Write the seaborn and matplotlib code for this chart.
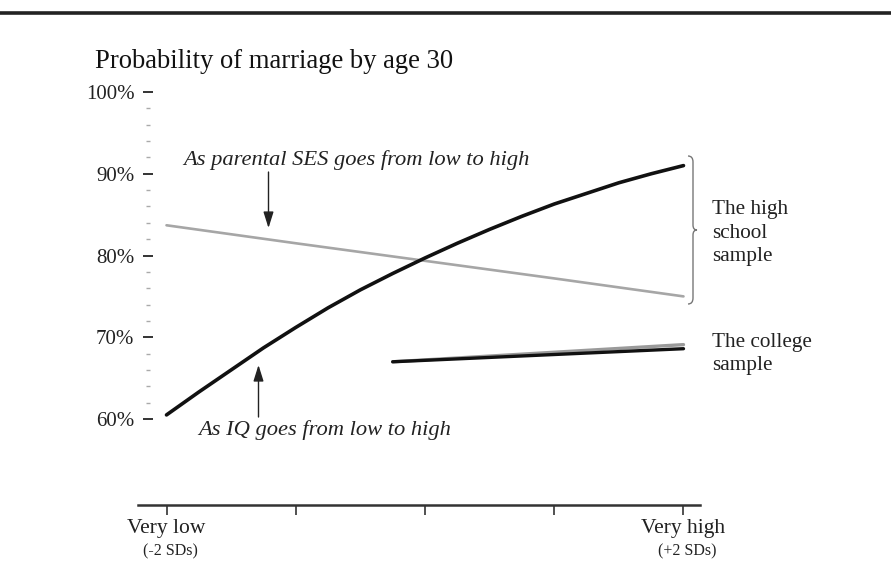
import matplotlib
matplotlib.use("Agg")
import matplotlib.pyplot as plt
from matplotlib.lines import Line2D
from matplotlib.path import Path
from matplotlib.patches import PathPatch
from matplotlib.ticker import FixedLocator
import numpy as np
import pandas as pd
import seaborn as sns

# ---------------- data ----------------
hs_sd = [-2, -1.75, -1.5, -1.25, -1, -0.75, -0.5, -0.25, 0,
         0.25, 0.5, 0.75, 1, 1.25, 1.5, 1.75, 2]
hs_iq = [60.5, 63.3, 66.0, 68.7, 71.2, 73.6, 75.8, 77.8, 79.7,
         81.5, 83.2, 84.8, 86.3, 87.6, 88.9, 90.0, 91.0]
hs_ses_sd = [-2, -1, 0, 1, 2]
hs_ses = [83.7, 81.5, 79.35, 77.2, 75.0]
col_sd = [-0.25, 2]
col_iq = [67.0, 68.6]
col_ses = [67.0, 69.1]

y_ticks = [60, 70, 80, 90, 100]
y_tick_labels = ["60%", "70%", "80%", "90%", "100%"]
y_minor = [62, 64, 66, 68, 72, 74, 76, 78, 82, 84, 86, 88, 92, 94, 96, 98]
x_ticks = [-2, -1, 0, 1, 2]
x_tick_labels = ["Very low", "", "", "", "Very high"]
x_sub_labels = {-2: "(-2 SDs)", 2: "(+2 SDs)"}

title = "Probability of marriage by age 30"
ses_note = "As parental SES goes from low to high"
iq_note = "As IQ goes from low to high"
hs_label = "The high\nschool\nsample"
col_label = "The college\nsample"

# ---------------- style ----------------
sns.set_style("white")
plt.rcParams["font.family"] = ["Liberation Serif", "DejaVu Serif"]

W, H = 891, 562
fig = plt.figure(figsize=(W / 100, H / 100), dpi=100)


def fx(px):
    return px / W


def fy(py):
    return 1 - py / H


ax = fig.add_axes([fx(137.6), fy(505), (700 - 137.6) / W, (505 - 87.7) / H])

# ---------------- lines ----------------
df_hs_iq = pd.DataFrame({"sd": hs_sd, "p": hs_iq})
df_hs_ses = pd.DataFrame({"sd": hs_ses_sd, "p": hs_ses})
df_col_iq = pd.DataFrame({"sd": col_sd, "p": col_iq})
df_col_ses = pd.DataFrame({"sd": col_sd, "p": col_ses})

sns.lineplot(data=df_hs_ses, x="sd", y="p", ax=ax, color="#a6a6a6", lw=1.9)
sns.lineplot(data=df_hs_iq, x="sd", y="p", ax=ax, color="#111111", lw=2.6)
sns.lineplot(data=df_col_ses, x="sd", y="p", ax=ax, color="#9a9a9a", lw=2.4)
sns.lineplot(data=df_col_iq, x="sd", y="p", ax=ax, color="#111111", lw=2.4)

ax.set_xlim(-2.2236, 2.1277)
ax.set_ylim(49.48, 100.53)
ax.set_xlabel("")
ax.set_ylabel("")

# spines
for s in ["top", "right"]:
    ax.spines[s].set_visible(False)
ax.spines["left"].set_position(("data", -2.147))
ax.spines["left"].set_color("none")
ax.spines["bottom"].set_linewidth(1.8)
ax.spines["bottom"].set_color("#333333")

# y ticks
ax.set_yticks(y_ticks)
ax.set_yticklabels(y_tick_labels, fontsize=15, color="#222222")
ax.yaxis.set_minor_locator(FixedLocator(y_minor))
ax.tick_params(axis="y", which="major", left=True, direction="inout", length=7,
               width=1.4, color="#333333", pad=6)
ax.tick_params(axis="y", which="minor", left=True, direction="inout", length=2.5,
               width=1.0, color="#aaaaaa")

# x ticks
ax.set_xticks(x_ticks)
ax.set_xticklabels(x_tick_labels, fontsize=15.5, color="#222222")
ax.tick_params(axis="x", which="major", bottom=True, direction="out", length=7,
               width=1.2, color="#333333", pad=3)
ax.tick_params(axis="x", which="minor", bottom=False)
for xv, lab in x_sub_labels.items():
    ax.annotate(lab, xy=(xv, 0), xycoords=("data", "axes fraction"),
                xytext=(3, -28), textcoords="offset points",
                ha="center", va="top", fontsize=11.5, color="#222222")

# ---------------- annotations ----------------
def py2val(py):
    return 60 + (419 - py) / 8.175


def px2sd(px):
    return (px - 424.5) / 129.25


ax.text(px2sd(183), py2val(160), ses_note, fontsize=16.2, style="italic",
        ha="left", va="center", color="#222222")
ax.text(px2sd(198), py2val(430), iq_note, fontsize=16.2, style="italic",
        ha="left", va="center", color="#222222", clip_on=False)

arrow_kw = dict(arrowstyle="-|>,head_length=0.7,head_width=0.22",
                color="#222222", lw=1.0, mutation_scale=14,
                shrinkA=0, shrinkB=0)
ax.annotate("", xy=(px2sd(268), py2val(228)), xytext=(px2sd(268), py2val(172)),
            arrowprops=arrow_kw)
ax.annotate("", xy=(px2sd(258), py2val(365)), xytext=(px2sd(258), py2val(417)),
            arrowprops=arrow_kw)

# brace for high school sample (figure pixel coords)
bx, top, bot, mid = 693, 156, 304, 230
verts = [(bx - 5, top), (bx, top), (bx, top + 6),
         (bx, mid - 5), (bx, mid), (bx + 4, mid),
         (bx, mid), (bx, mid + 5),
         (bx, bot - 6), (bx, bot), (bx - 5, bot)]
codes = [Path.MOVETO, Path.CURVE3, Path.CURVE3,
         Path.LINETO, Path.CURVE3, Path.CURVE3,
         Path.CURVE3, Path.CURVE3,
         Path.LINETO, Path.CURVE3, Path.CURVE3]
verts_f = [(fx(x), fy(y)) for x, y in verts]
brace = PathPatch(Path(verts_f, codes), transform=fig.transFigure,
                  fill=False, lw=1.0, edgecolor="#777777")
fig.add_artist(brace)

fig.text(fx(712), fy(233), hs_label, fontsize=15.3, ha="left", va="center",
         linespacing=1.3, color="#222222")
fig.text(fx(712), fy(354), col_label, fontsize=15.3, ha="left", va="center",
         linespacing=1.3, color="#222222")

# title and top rule
fig.text(fx(95), fy(62), title, fontsize=19.2, ha="left", va="center",
         color="#111111")
fig.add_artist(Line2D([0, 1], [fy(13), fy(13)], transform=fig.transFigure,
                      lw=2.6, color="#222222"))

fig.savefig("out.png", dpi=100)
